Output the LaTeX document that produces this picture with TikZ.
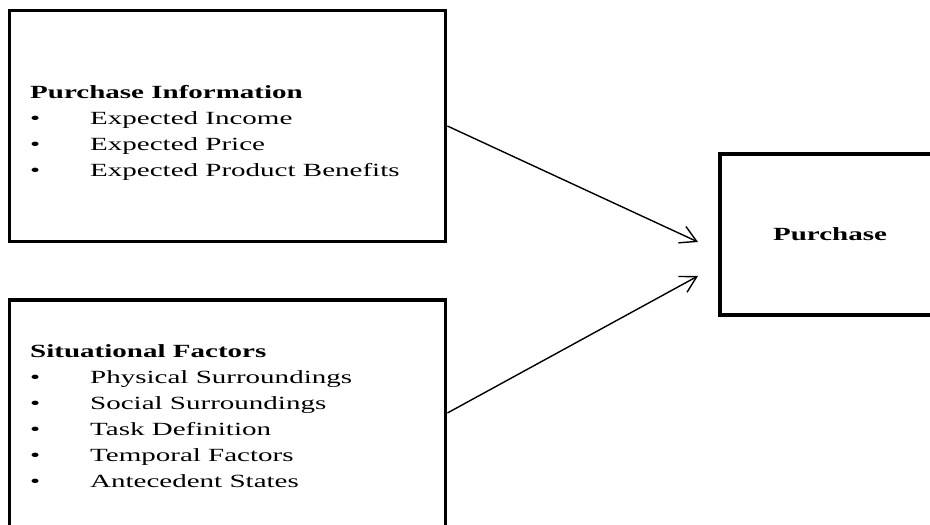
\documentclass[tikz,border=0pt]{standalone}
\usepackage{fontspec}
\setmainfont{Liberation Serif}[FakeStretch=1.56]
\usepackage{tikz}
\usetikzlibrary{positioning, arrows.meta}
\tikzset{>={Straight Barb[length=16pt,width=18pt,line width=1.4pt]},
box/.style={draw, line width=3.8pt, inner sep=0pt},
itemlist/.style={align=left, inner sep=0pt, anchor=base west,
  font=\fontsize{18.6}{26}\selectfont},
link/.style={->, line width=1.4pt}}
\newcommand{\itm}[1]{\makebox[60pt][l]{\textbullet}#1}

\begin{document}
\begin{tikzpicture}[x=1pt,y=-1pt]
\clip (0,0) rectangle (930,525);
\node[box, minimum width=436pt, minimum height=231pt] (info) at (227.5,126) {};
\node[box, minimum width=436pt, minimum height=240pt] (sit) at (227.5,420) {};
\node[box, minimum width=220pt, minimum height=161pt,
  font=\fontsize{18.6}{26}\selectfont\bfseries] (buy) at (830,234.5) {Purchase};
% base of a multi-line node = last line
\node[itemlist] (infotext) at (30,176) {\textbf{Purchase Information}\\
\itm{Expected Income}\\
\itm{Expected Price}\\
\itm{Expected Product Benefits}};
\node[itemlist] (sittext) at (30,487) {\textbf{Situational Factors}\\
\itm{Physical Surroundings}\\
\itm{Social Surroundings}\\
\itm{Task Definition}\\
\itm{Temporal Factors}\\
\itm{Antecedent States}};
\coordinate (in1) at (698,242);
\coordinate (in2) at (698,276);
\draw[link] (info.east) -- (in1);
\draw[link] ([yshift=7pt]sit.east) -- (in2);
\end{tikzpicture}
\end{document}
